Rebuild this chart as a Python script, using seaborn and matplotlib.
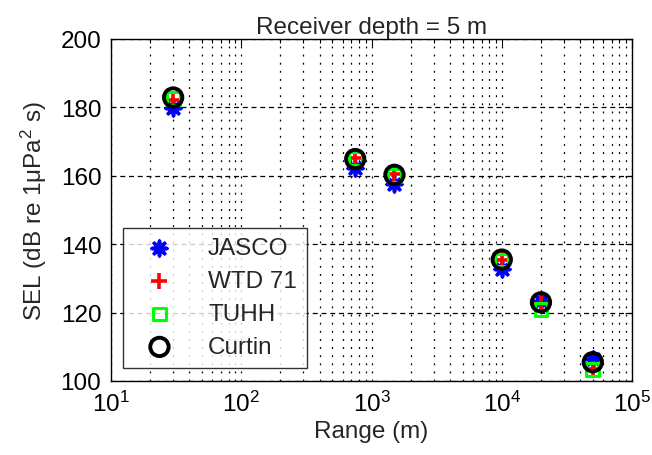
#-------------------------------------------------------------------------------------------
# SEL vs range, receiver depth 5 m
#-------------------------------------------------------------------------------------------

import numpy as np
import pandas as pd
import matplotlib
matplotlib.use("Agg")
import matplotlib.pyplot as plt
import seaborn as sns
from matplotlib.ticker import LogLocator, NullFormatter

#---------------------------
# Data
#---------------------------
ranges = [30, 750, 1500, 10000, 20000, 50000]

jasco = [179.8, 162.3, 157.5, 132.8, 123.5, 106.3]
wtd71 = [182.3, 165.1, 160.4, 135.3, 122.6, 103.6]
tuhh = [182.6, 165.0, 160.2, 135.4, 121.0, 103.4]
curtin = [182.9, 164.9, 160.3, 135.5, 123.0, 105.5]

series_names = ["JASCO", "WTD 71", "TUHH", "Curtin"]

df = pd.DataFrame({
    "range": ranges * 4,
    "sel": jasco + wtd71 + tuhh + curtin,
    "source": np.repeat(series_names, len(ranges)),
})

#---------------------------
# Style
#---------------------------
sns.set_style("white")
plt.rcParams["font.family"] = ["Liberation Sans", "DejaVu Sans"]
plt.rcParams["mathtext.fontset"] = "custom"
plt.rcParams["mathtext.rm"] = "Liberation Sans"
plt.rcParams["mathtext.it"] = "Liberation Sans:italic"

fs = 17.5

fig = plt.figure(figsize=(6.52, 4.56), dpi=100)
ax = fig.add_axes([111 / 652, 1 - 382 / 456, 521 / 652, 342 / 456])

# marker styles per series
styles = {
    "JASCO": dict(marker=(8, 2, 0), color="blue", s=110, linewidth=2.6),
    "WTD 71": dict(marker="+", color="red", s=130, linewidth=2.6),
    "TUHH": dict(marker="s", facecolor="none", edgecolor="lime", s=85, linewidth=2.2),
    "Curtin": dict(marker="o", facecolor="none", edgecolor="black", s=175, linewidth=2.8),
}

for name in series_names:
    sub = df[df["source"] == name]
    sns.scatterplot(data=sub, x="range", y="sel", ax=ax, label=name, zorder=3,
                    **styles[name])

ax.set_xscale("log")
ax.set_xlim(10, 1e5)
ax.set_ylim(100, 200)
ax.set_yticks(np.arange(100, 201, 20))

ax.xaxis.set_minor_locator(LogLocator(base=10, subs=np.arange(2, 10), numticks=20))
ax.xaxis.set_minor_formatter(NullFormatter())

# grid: dotted verticals, dashed horizontals
ax.grid(False)
ax.xaxis.grid(True, which="both", color="black", linestyle=(0, (1.5, 5)), linewidth=0.9)
ax.yaxis.grid(True, which="major", color="black", linestyle=(0, (4, 3)), linewidth=0.9)
ax.set_axisbelow(True)

ax.tick_params(which="both", direction="in", top=True, right=True, colors="black",
               labelsize=fs, length=5, width=0.8, pad=7)
ax.tick_params(which="minor", length=3)
for sp in ax.spines.values():
    sp.set_color("black")
    sp.set_linewidth(1.0)

ax.set_title("Receiver depth = 5 m", fontsize=fs, pad=4)
ax.set_xlabel("Range (m)", fontsize=fs, labelpad=3)
ax.set_ylabel("SEL (dB re 1\u03bcPa$^2$ s)", fontsize=fs, labelpad=8)

leg = ax.legend(loc="lower left", bbox_to_anchor=(12 / 521, 13 / 342), fontsize=fs,
                frameon=True, fancybox=False, edgecolor="black", borderpad=0.4,
                handletextpad=0.9, labelspacing=0.45, borderaxespad=0, handlelength=2.2)
leg.get_frame().set_linewidth(1.0)

fig.savefig("out.png", dpi=100)
